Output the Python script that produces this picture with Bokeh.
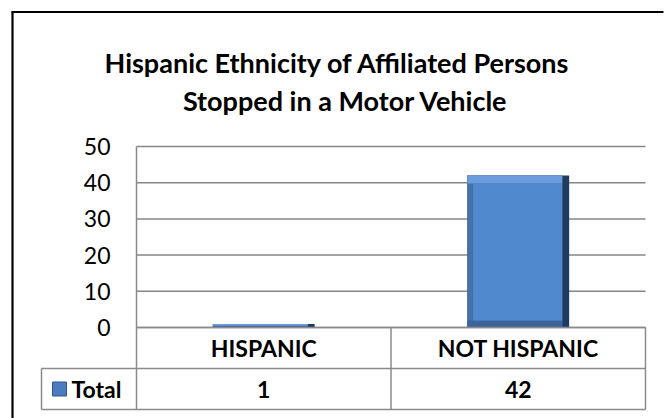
from bokeh.plotting import figure
from bokeh.models import Range1d
from bokeh.transform import dodge
from bokeh.core.properties import value
from bokeh.embed import file_html
from bokeh.resources import INLINE

# ---------------- data ----------------
title_lines = ["Hispanic Ethnicity of Affiliated Persons", "Stopped in a Motor Vehicle"]
categories = ["HISPANIC", "NOT HISPANIC"]
totals = [1, 42]
series_name = "Total"
y_ticks = [0, 10, 20, 30, 40, 50]
y_max = 50

# ---------------- layout / style ----------------
W, H = 665, 418
FL, FR, FT, FB = 136, 645, 146, 327      # plot area (canvas px)
ROW = 41                                 # data-table row height
TBL_LEFT = 41                            # left edge of the series-name column
BORDER_X, BORDER_Y = 12, 11.5            # outer chart border
FONT = value("Lato")
GRID = "#868686"
TLINE = "#8a8a8a"
TABLE_FS = "23px"

# canvas-sized frame in pixel coordinates (y grows downward)
p = figure(width=W, height=H, x_range=Range1d(0, W), y_range=Range1d(H, 0),
           output_backend="svg", toolbar_location=None, tools="",
           x_axis_location=None, y_axis_location=None,
           min_border=0, min_border_left=0, min_border_right=0,
           min_border_top=0, min_border_bottom=0)
p.outline_line_color = None
p.grid.visible = False
p.background_fill_color = "white"
p.border_fill_color = "white"

n = len(categories)
# category slots: slot i spans [i, i+1] of the chart's x scale
pos = [i + 0.5 for i in range(n)]

# data coordinates of the chart, mapped onto the plot area
xy = p.subplot(x_source=Range1d(0, n), y_source=Range1d(0, y_max),
               x_target=Range1d(FL, FR), y_target=Range1d(FB, FT))

# gridlines and value axis labels
xy.segment(x0=[0] * len(y_ticks), x1=[n] * len(y_ticks), y0=y_ticks, y1=y_ticks,
           line_color=GRID, line_width=1.5)
xy.text(x=[0] * len(y_ticks), y=y_ticks, text=[str(t) for t in y_ticks],
        x_offset=-26, text_align="right", text_baseline="middle",
        text_font=FONT, text_font_size="23px", text_color="black")

# ---------------- bars (bevelled look) ----------------
edge_top = [min(2.2, v * 0.5) for v in totals]
edge_bot = [min(1.9, v * 0.4) for v in totals]
data = dict(pos=pos, total=totals,
            inner_top=[v - t for v, t in zip(totals, edge_top)],
            inner_bot=edge_bot, zero=[0] * n)
xy.vbar(x="pos", top="total", bottom="zero", width=0.4, source=data,
        fill_color="#1f3b60", line_color=None)
xy.vbar(x=dodge("pos", -0.0135), top="total", bottom="zero", width=0.373,
        source=data, fill_color="#4672ab", line_color=None)
xy.vbar(x=dodge("pos", -0.0135), top="total", bottom="inner_top", width=0.373,
        source=data, fill_color="#6c9cde", line_color=None)
xy.vbar(x=dodge("pos", -0.0135), top="inner_bot", bottom="zero", width=0.373,
        source=data, fill_color="#3a649b", line_color=None)
xy.vbar(x=dodge("pos", -0.002), top="inner_top", bottom="inner_bot", width=0.35,
        source=data, fill_color="#5189cf", line_color=None)

# ---------------- data table ----------------
# header row: category names; value row: totals
xy.text(x=pos, y=[0] * n, text=categories, y_offset=ROW / 2 - 0.5,
        text_align="center", text_baseline="middle",
        text_font=FONT, text_font_style="bold", text_font_size=TABLE_FS, text_color="black")
xy.text(x=pos, y=[0] * n, text=[str(v) for v in totals], y_offset=ROW * 1.5,
        text_align="center", text_baseline="middle",
        text_font=FONT, text_font_style="bold", text_font_size=TABLE_FS, text_color="black")

mid = (FL + FR) / 2
# horizontal table lines
p.segment(x0=[FL, TBL_LEFT, TBL_LEFT], x1=[FR, FR, FR],
          y0=[FB, FB + ROW, FB + 2 * ROW], y1=[FB, FB + ROW, FB + 2 * ROW],
          line_color=TLINE, line_width=1.5)
# vertical table lines (the left one doubles as the value-axis line)
p.segment(x0=[TBL_LEFT, FL, mid, FR], x1=[TBL_LEFT, FL, mid, FR],
          y0=[FB + ROW, FT, FB, FB], y1=[FB + 2 * ROW] * 4,
          line_color=TLINE, line_width=1.5)

# legend key + series name
p.quad(left=[52], right=[66], top=[381.5], bottom=[395.5],
       fill_color="#4a7cbf", line_color="#2f5788", line_width=1)
p.text(x=[71], y=[FB + ROW * 1.5], text=[series_name], text_align="left",
       text_baseline="middle",
       text_font=FONT, text_font_style="bold", text_font_size=TABLE_FS, text_color="black")

# ---------------- title ----------------
p.text(x=[337, 345], y=[61.5, 99.5], text=title_lines,
       text_align="center", text_baseline="middle",
       text_font=FONT, text_font_style="bold", text_font_size="27px", text_color="black")

# ---------------- outer chart border (left and top edges) ----------------
p.segment(x0=[BORDER_X, BORDER_X - 1.1], x1=[BORDER_X, W - 2],
          y0=[H, BORDER_Y], y1=[BORDER_Y, BORDER_Y],
          line_color="black", line_width=2.2)

open("out.html", "w").write(file_html(p, INLINE))
